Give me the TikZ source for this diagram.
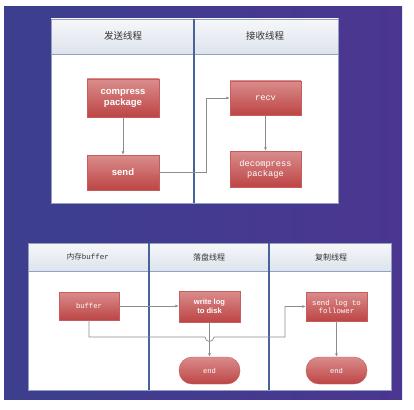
\documentclass[tikz,border=0pt]{standalone}
\usepackage{fontspec}
\setmainfont{Liberation Sans}
\setmonofont{Liberation Mono}
\newfontfamily\cjk{Noto Sans CJK SC}
\usetikzlibrary{arrows.meta, positioning}

\definecolor{bgleft}{HTML}{3C3F8E}
\definecolor{bgright}{HTML}{4B3690}
\definecolor{lanebd}{HTML}{8FA2C2}
\definecolor{lanediv}{HTML}{46639C}
\definecolor{headtop}{HTML}{F6F7FA}
\definecolor{headbot}{HTML}{DDE3EC}
\definecolor{boxtop}{HTML}{DA8C8C}
\definecolor{boxbot}{HTML}{BD4545}
\definecolor{boxbd}{HTML}{C85C5C}
\definecolor{flowgray}{HTML}{8C8C8C}

\begin{document}
\begin{tikzpicture}[
    x=1pt, y=-1pt,
    lane/.style={draw=lanebd, line width=1pt, fill=white},
    head/.style={draw=lanebd, line width=0.8pt, top color=headtop, bottom color=headbot},
    divider/.style={draw=lanediv, line width=1.2pt},
    headtext/.style={text=black!80, font=\cjk},
    procbox/.style={rectangle, draw=boxbd, top color=boxtop, bottom color=boxbot, text=white, align=center, inner sep=1pt},
    endbox/.style={procbox, rounded corners=13pt},
    flowarrow/.style={-{Latex[length=3.5pt, width=3pt]}, draw=flowgray, line width=0.7pt}
]
    \useasboundingbox (0,0) rectangle (414,409);
    \fill[left color=bgleft, right color=bgright] (4,7) rectangle (402,399);

    % Upper swimlanes
    \draw[lane] (51,19) rectangle (338,203);
    \draw[head] (51,19) rectangle (338,54);
    \draw[divider] (194,19) -- (194,203);
    \node[headtext, font=\cjk\fontsize{9.5}{11}\selectfont] (sendhead) at (123,36) {发送线程};
    \node[headtext, font=\cjk\fontsize{9.5}{11}\selectfont] (recvhead) at (265,36) {接收线程};

    \node[procbox, minimum width=72pt, minimum height=38pt, font=\bfseries\fontsize{9.5}{11}\selectfont] (compress) at (123,98) {compress\\package};
    \node[procbox, minimum width=72pt, minimum height=35pt, font=\bfseries\fontsize{9.5}{11}\selectfont] (send) at (123,172.5) {send};
    \node[procbox, minimum width=71pt, minimum height=34pt, font=\ttfamily\fontsize{8.7}{10}\selectfont] (recv) at (265.5,98) {recv};
    \node[procbox, minimum width=71pt, minimum height=36pt, font=\ttfamily\fontsize{8.7}{10}\selectfont] (decompress) at (265.5,169) {decompress\\package};

    \draw[flowarrow] (compress) -- (send);
    \draw[flowarrow] (send.east) -| (206,98) -- (recv.west);
    \draw[flowarrow] (recv) -- (decompress);

    % Lower swimlanes
    \draw[lane] (28,243) rectangle (391,390);
    \draw[head] (28,243) rectangle (391,271);
    \draw[divider] (149,243) -- (149,390);
    \draw[divider] (269,243) -- (269,390);
    \node[headtext, font=\fontsize{7.5}{9}\selectfont] (bufhead) at (88,257) {{\cjk 内存}\texttt{buffer}};
    \node[headtext, font=\cjk\fontsize{8}{9}\selectfont] (diskhead) at (209,257) {落盘线程};
    \node[headtext, font=\cjk\fontsize{8}{9}\selectfont] (replhead) at (331,257) {复制线程};

    \node[procbox, minimum width=60pt, minimum height=28pt, font=\ttfamily\fontsize{7.2}{8.5}\selectfont] (buffer) at (89,306) {buffer};
    \node[procbox, minimum width=61pt, minimum height=31pt, font=\bfseries\fontsize{7.6}{9}\selectfont] (writelog) at (209.5,306.5) {write log\\to disk};
    \node[procbox, minimum width=61pt, minimum height=29pt, font=\ttfamily\fontsize{7.4}{8}\selectfont] (sendlog) at (336.5,306.5) {send log to\\follower};
    \node[endbox, minimum width=61pt, minimum height=27pt, font=\ttfamily\fontsize{7.2}{8.5}\selectfont] (enddisk) at (209.5,370.5) {end};
    \node[endbox, minimum width=61pt, minimum height=27pt, font=\ttfamily\fontsize{7.2}{8.5}\selectfont] (endrepl) at (336.5,370.5) {end};

    \draw[flowarrow] (buffer.east) -- (writelog.west |- buffer.east);
    \draw[flowarrow] (writelog) -- (enddisk);
    \draw[flowarrow] (sendlog) -- (endrepl);
    % buffer also goes to the replication lane, hopping over the disk line
    \coordinate (hopin) at (205,337);
    \coordinate (turn) at (285,337);
    \draw[flowarrow] (buffer.south) |- (hopin) arc[start angle=180, end angle=0, radius=4.5] -- (turn) |- (sendlog.west);
\end{tikzpicture}
\end{document}
